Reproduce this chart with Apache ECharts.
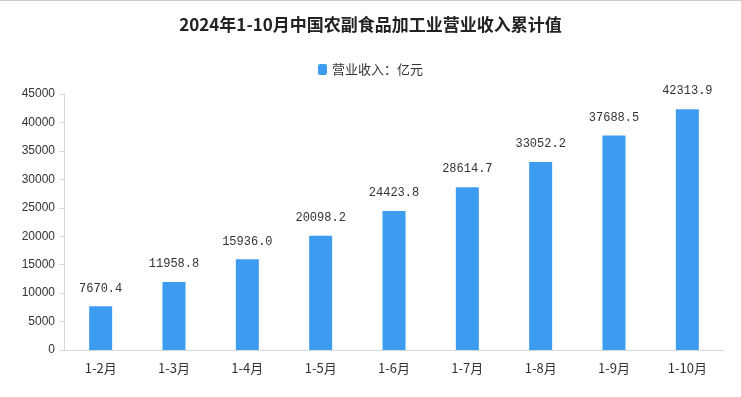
<!DOCTYPE html>
<html>
<head>
<meta charset="utf-8">
<script src="https://cdn.jsdelivr.net/npm/echarts@6/dist/echarts.min.js"></script>
<style>
  html, body { margin: 0; padding: 0; background: #fff; }
  #chart { width: 741px; height: 397px; border-top: 1px solid #ccc; box-sizing: border-box; }
</style>
</head>
<body>
<div id="chart"></div>
<script>
// 月份累计
var months = ['1-2月', '1-3月', '1-4月', '1-5月', '1-6月', '1-7月', '1-8月', '1-9月', '1-10月'];
var revenue = [7670.4, 11958.8, 15936.0, 20098.2, 24423.8, 28614.7, 33052.2, 37688.5, 42313.9];

var myChart = echarts.init(document.getElementById('chart'));
myChart.setOption({
    animation: false,
    title: {
        text: '2024年1-10月中国农副食品加工业营业收入累计值',
        left: 'center',
        top: 10,
        textStyle: {
            fontSize: 17,
            fontWeight: 'bold',
            color: '#222',
            fontFamily: 'Noto Sans CJK SC'
        }
    },
    legend: {
        top: 57,
        left: 'center',
        itemWidth: 9,
        itemHeight: 11,
        itemGap: 6,
        textStyle: { fontSize: 13, color: '#333', fontFamily: 'Noto Sans CJK SC' },
        data: ['营业收入：亿元']
    },
    grid: {
        left: 64,
        right: 17,
        top: 93,
        bottom: 47
    },
    xAxis: {
        type: 'category',
        data: months,
        axisLine: { lineStyle: { color: '#d9d9d9' } },
        axisTick: { lineStyle: { color: '#d9d9d9' }, length: 5 },
        axisLabel: { color: '#333', fontSize: 13, margin: 12, fontFamily: 'Noto Sans CJK SC' }
    },
    yAxis: {
        type: 'value',
        min: 0,
        max: 45000,
        interval: 5000,
        axisLine: { show: true, lineStyle: { color: '#d9d9d9' } },
        axisTick: { show: true, lineStyle: { color: '#d9d9d9' }, length: 5 },
        splitLine: { show: false },
        axisLabel: {
            color: '#333', fontSize: 12, margin: 9, fontFamily: 'Liberation Sans',
            formatter: function (v) { return String(v); }
        }
    },
    series: [{
        name: '营业收入：亿元',
        type: 'bar',
        barWidth: 23,
        itemStyle: { color: '#3d9cf0' },
        label: {
            show: true,
            position: 'top',
            distance: 12,
            color: '#333',
            fontSize: 12,
            fontFamily: 'Liberation Mono',
            formatter: function (p) { return p.value.toFixed(1); }
        },
        labelLayout: { hideOverlap: false },
        data: revenue
    }]
});
</script>
</body>
</html>
